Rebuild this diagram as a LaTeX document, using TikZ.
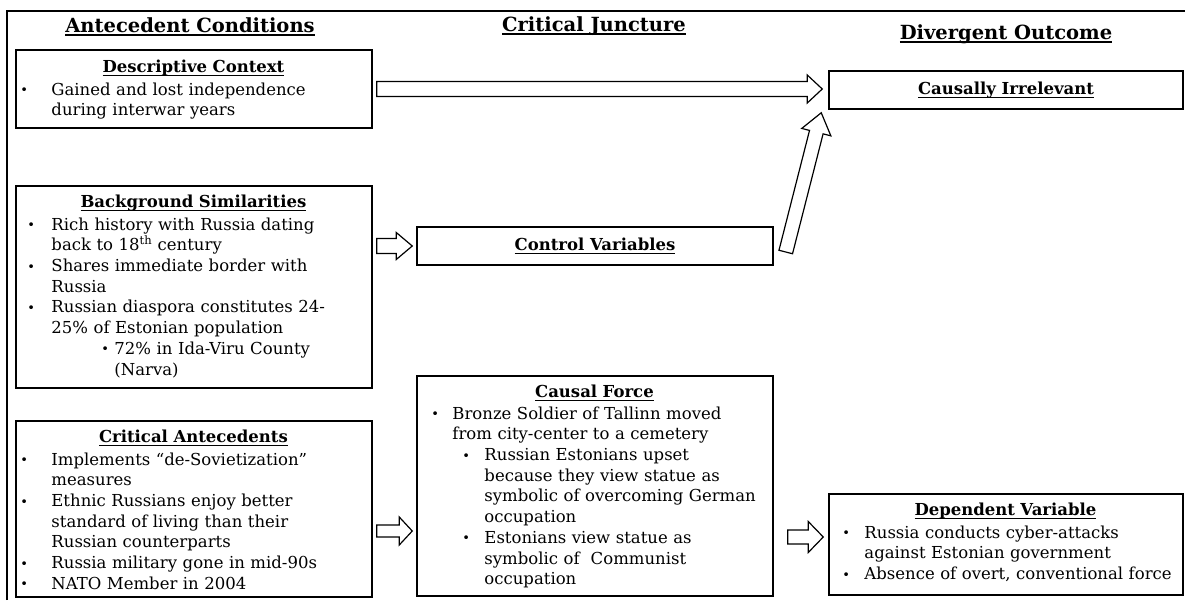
\documentclass[tikz,border=0pt]{standalone}
\usepackage{fontspec}
\setmainfont{DejaVu Serif}
\usetikzlibrary{calc}
\newcommand\hd[1]{\setbox0\hbox{#1}\leavevmode\rlap{\rule[-3.6pt]{\wd0}{1.5pt}}\box0}
\newcommand\bul[2]{\makebox[#2pt][l]{\hspace*{#1pt}\raisebox{0.5pt}{\fontsize{13}{13}\selectfont\textbullet}}}
\newcommand\ind[1]{\hspace*{#1pt}}
\newcommand\headline[1]{\makebox[\hsize]{\rule{0pt}{14pt}\bfseries\hd{#1}}}
\newcommand\barrow[5]{%
  \draw[blockarrow] let \p1=(#1), \p2=(#2),
    \n1={atan2(\y2-\y1,\x2-\x1)}, \n2={veclen(\x2-\x1,\y2-\y1)} in
    [shift={(\p1)}, rotate=\n1]
    (0,#3) -- ({\n2-#5},#3) -- ({\n2-#5},#4) -- (\n2,0) --
    ({\n2-#5},-#4) -- ({\n2-#5},-#3) -- (0,-#3) -- cycle;}
\tikzset{
  box/.style={draw, line width=1.5pt, inner sep=0pt},
  body/.style={anchor=north west, inner sep=0pt, align=left, text width=#1,
    font=\fontsize{16.5}{20.7}\selectfont},
  hdr/.style={anchor=base, inner sep=0pt, font=\fontsize{19.5}{22}\selectfont\bfseries},
  blockarrow/.style={draw, fill=white, line width=1.2pt, line join=miter},
  frame/.style={line width=1.5pt}
}
\begin{document}
\begin{tikzpicture}[x=1pt,y=-1pt]
\useasboundingbox (0,0) rectangle (1185,600);
\draw[frame] (7,600) -- (7,11) -- (1185,11);

\node[hdr] (h1) at (190,32) {\hd{Antecedent Conditions}};
\node[hdr] (h2) at (594,31) {\hd{Critical Juncture}};
\node[hdr] (h3) at (1006,39) {\hd{Divergent Outcome}};

% boxes
\node[box, minimum width=356pt, minimum height=78pt] (dc) at (194,89) {};
\node[box, minimum width=356pt, minimum height=202pt] (bs) at (194,287) {};
\node[box, minimum width=356pt, minimum height=176pt] (ca) at (194,509) {};
\node[box, minimum width=356pt, minimum height=38pt, font=\fontsize{16.5}{18}\selectfont\bfseries] (cv) at (595,246) {\hd{Control Variables}};
\node[box, minimum width=356pt, minimum height=220pt] (cf) at (595,486) {};
\node[box, minimum width=354pt, minimum height=38pt, font=\fontsize{16.5}{18}\selectfont\bfseries] (ci) at (1006,90) {\hd{Causally Irrelevant}};
\node[box, minimum width=354pt, minimum height=101pt] (dv) at (1006,544.5) {};

% box texts
\node[body=346pt] (dct) at ($(dc.north west)+(5,9)$) {\noindent\headline{Descriptive Context}\\[2pt]
\bul{0}{31}Gained and lost independence\\
\ind{31}during interwar years};

\node[body=346pt] (bst) at ($(bs.north west)+(5,8)$) {\noindent\headline{Background Similarities}\\[2pt]
\bul{7}{31}Rich history with Russia dating\\
\ind{31}back to 18\textsuperscript{th} century\\
\bul{7}{31}Shares immediate border with\\
\ind{31}Russia\\
\bul{7}{31}Russian diaspora constitutes 24-\\
\ind{31}25\% of Estonian population\\
\ind{81}\bul{0}{13}72\% in Ida-Viru County\\
\ind{94}(Narva)};

\node[body=346pt] (cat) at ($(ca.north west)+(5,8)$) {\noindent\headline{Critical Antecedents}\\[2pt]
\bul{0}{31}Implements “de-Sovietization”\\
\ind{31}measures\\
\bul{0}{31}Ethnic Russians enjoy better\\
\ind{31}standard of living than their\\
\ind{31}Russian counterparts\\
\bul{0}{31}Russia military gone in mid-90s\\
\bul{0}{31}NATO Member in 2004};

\node[body=346pt] (cft) at ($(cf.north west)+(5,8)$) {\noindent\headline{Causal Force}\\[1pt]
\bul{10}{31}Bronze Soldier of Tallinn moved\\
\ind{31}from city-center to a cemetery\\
\ind{41}\bul{0}{22}Russian Estonians upset\\
\ind{63}because they view statue as\\
\ind{63}symbolic of overcoming German\\
\ind{63}occupation\\
\ind{41}\bul{0}{22}Estonians view statue as\\
\ind{63}symbolic of\ \ Communist\\
\ind{63}occupation};

\node[body=344pt] (dvt) at ($(dv.north west)+(5,8)$) {\noindent\headline{Dependent Variable}\\[2pt]
\bul{9}{31}Russia conducts cyber-attacks\\
\ind{31}against Estonian government\\
\bul{9}{31}Absence of overt, conventional force};

% arrow end points
\coordinate (a1s) at ($(dc.east)+(4,0)$);
\coordinate (a1e) at ($(dc.east -| ci.west)+(-6,0)$);
\coordinate (a2s) at ($(bs.east |- cv.west)+(4,0)$);
\coordinate (a2e) at ($(cv.west)+(-4,0)$);
\coordinate (a3s) at ($(ca.east)+(4,22)$);
\coordinate (a3e) at ($(cf.west |- a3s)+(-4,0)$);
\coordinate (a4s) at ($(cf.east)+(14,51)$);
\coordinate (a4e) at ($(dv.west |- a4s)+(-5,0)$);
\coordinate (a5s) at ($(cv.east)+(12,6)$);
\coordinate (a5e) at ($(ci.south west)+(-7,3)$);

\barrow{a1s}{a1e}{7.5}{14}{15}
\barrow{a2s}{a2e}{7.5}{13.5}{16}
\barrow{a3s}{a3e}{6}{14}{13}
\barrow{a4s}{a4e}{7}{15.5}{15}
\barrow{a5s}{a5e}{7}{15}{20}
\end{tikzpicture}
\end{document}
